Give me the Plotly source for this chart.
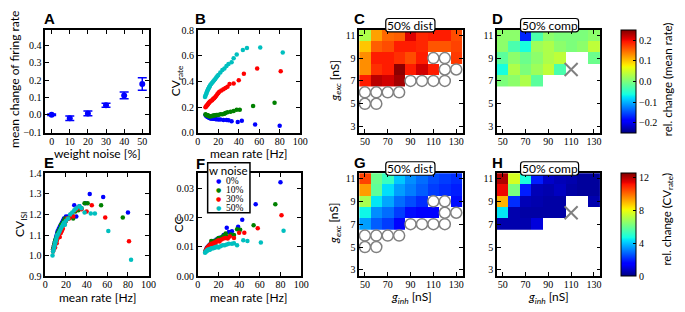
import plotly.graph_objects as go

# ---------------- data ----------------
noise_pct = [0, 10, 20, 30, 40, 50]
rate_change = [0.0, -0.02, 0.008, 0.055, 0.112, 0.178]
rate_change_err = [0.004, 0.013, 0.014, 0.011, 0.02, 0.036]

series_names = ["0%", "10%", "30%", "50%"]
series_colors = ["#0000ff", "#008000", "#ff0000", "#00bfbf"]

rate_0 = [7.5, 8, 8.5, 9, 9.5, 10, 10.5, 11, 11.5, 12, 12.5, 13, 14, 15, 16, 17, 18, 20, 22, 25, 28, 30, 33, 39, 43, 56, 80]
cvrate_0 = [0.14, 0.135, 0.13, 0.13, 0.125, 0.125, 0.12, 0.12, 0.118, 0.115, 0.115, 0.113, 0.112, 0.11, 0.11, 0.108, 0.107, 0.105, 0.105, 0.1, 0.1, 0.098, 0.09, 0.085, 0.095, 0.065, 0.055]
cvisi_0 = [1.03, 1.04, 1.05, 1.06, 1.07, 1.08, 1.09, 1.10, 1.11, 1.12, 1.10, 1.13, 1.14, 1.15, 1.16, 1.17, 1.18, 1.19, 1.19, 1.2, 1.245, 1.19, 1.24, 1.255, 1.3, 1.285, 1.21]
cc_0 = [0.0085, 0.009, 0.0095, 0.0095, 0.01, 0.01, 0.0098, 0.0105, 0.0103, 0.0108, 0.011, 0.0112, 0.0115, 0.012, 0.0112, 0.0118, 0.0125, 0.0128, 0.0132, 0.014, 0.0165, 0.015, 0.0153, 0.0168, 0.0192, 0.0245, 0.032]

rate_10 = [7.5, 8, 8.5, 9, 9.5, 10, 10.5, 11, 11.5, 12, 13, 14, 15, 16, 17, 18, 19, 20, 22, 24, 26, 27, 29, 32, 35, 38, 41, 54, 75]
cvrate_10 = [0.145, 0.14, 0.14, 0.138, 0.135, 0.135, 0.133, 0.13, 0.13, 0.13, 0.13, 0.132, 0.135, 0.135, 0.138, 0.14, 0.14, 0.14, 0.145, 0.145, 0.15, 0.155, 0.16, 0.165, 0.17, 0.18, 0.18, 0.21, 0.235]
cvisi_10 = [1.03, 1.04, 1.05, 1.06, 1.07, 1.08, 1.07, 1.09, 1.1, 1.11, 1.12, 1.13, 1.15, 1.14, 1.16, 1.17, 1.18, 1.17, 1.18, 1.19, 1.2, 1.18, 1.215, 1.22, 1.23, 1.255, 1.255, 1.245, 1.185]
cc_10 = [0.0085, 0.009, 0.009, 0.0095, 0.0095, 0.01, 0.01, 0.0102, 0.0105, 0.0108, 0.012, 0.011, 0.0115, 0.012, 0.0118, 0.0122, 0.0125, 0.013, 0.013, 0.0135, 0.014, 0.0145, 0.0135, 0.0142, 0.014, 0.016, 0.0158, 0.0173, 0.0245]

rate_30 = [7.5, 8, 8.5, 9, 9.5, 10, 10.5, 11, 11.5, 12, 13, 14, 15, 16, 17, 18, 19, 20, 21, 23, 25, 27, 29, 31, 35, 40, 45, 58, 81]
cvrate_30 = [0.2, 0.205, 0.21, 0.215, 0.22, 0.225, 0.23, 0.235, 0.24, 0.245, 0.25, 0.255, 0.265, 0.27, 0.28, 0.29, 0.3, 0.31, 0.32, 0.33, 0.34, 0.35, 0.36, 0.38, 0.385, 0.41, 0.46, 0.5, 0.48]
cvisi_30 = [1.02, 1.03, 1.04, 1.05, 1.04, 1.06, 1.07, 1.06, 1.08, 1.09, 1.1, 1.09, 1.11, 1.12, 1.13, 1.15, 1.16, 1.17, 1.18, 1.18, 1.2, 1.19, 1.22, 1.23, 1.225, 1.215, 1.245, 1.185, 1.07]
cc_30 = [0.0085, 0.009, 0.0092, 0.0095, 0.0098, 0.01, 0.01, 0.0102, 0.0105, 0.0105, 0.011, 0.0108, 0.0112, 0.0115, 0.011, 0.0118, 0.012, 0.0122, 0.0118, 0.0125, 0.0128, 0.013, 0.0128, 0.0135, 0.013, 0.0148, 0.0148, 0.0163, 0.0207]

rate_50 = [7, 7.5, 8, 8.5, 9, 9.5, 10, 10.5, 11, 11.5, 12, 13, 14, 15, 16, 17, 18, 19, 20, 22, 24, 26, 28, 30, 33, 35, 38, 44, 48, 61, 83]
cvrate_50 = [0.28, 0.29, 0.3, 0.31, 0.32, 0.33, 0.34, 0.345, 0.355, 0.36, 0.37, 0.38, 0.39, 0.4, 0.41, 0.42, 0.43, 0.44, 0.45, 0.47, 0.49, 0.5, 0.52, 0.535, 0.55, 0.58, 0.61, 0.645, 0.66, 0.665, 0.625]
cvisi_50 = [1.0, 1.02, 1.03, 1.04, 1.05, 1.06, 1.07, 1.08, 1.09, 1.1, 1.1, 1.11, 1.12, 1.13, 1.14, 1.15, 1.16, 1.15, 1.17, 1.18, 1.2, 1.21, 1.22, 1.23, 1.24, 1.23, 1.21, 1.205, 1.205, 1.12, 0.98]
cc_50 = [0.008, 0.0082, 0.0085, 0.0085, 0.0088, 0.009, 0.0088, 0.009, 0.0092, 0.009, 0.0092, 0.0095, 0.0095, 0.0095, 0.0098, 0.0098, 0.01, 0.01, 0.0098, 0.0102, 0.0105, 0.0105, 0.0108, 0.011, 0.011, 0.0112, 0.0105, 0.0122, 0.012, 0.0115, 0.0155]

rates = [rate_0, rate_10, rate_30, rate_50]
cvrates = [cvrate_0, cvrate_10, cvrate_30, cvrate_50]
cvisis = [cvisi_0, cvisi_10, cvisi_30, cvisi_50]
ccs = [cc_0, cc_10, cc_30, cc_50]

g_inh = [50, 60, 70, 80, 90, 100, 110, 120, 130]
g_exc = [7, 8, 9, 10, 11]
N = None

# C: 50% dist, rel. change of mean rate (rows: g_exc 7..11)
dist_rate = [
    [0.19, 0.225, 0.215, 0.235, N, N, N, N, N],
    [0.13, 0.18, 0.19, 0.245, 0.19, 0.215, 0.19, N, N],
    [0.13, 0.19, 0.19, 0.18, 0.165, 0.19, N, N, 0.175],
    [0.10, 0.155, 0.165, 0.19, 0.19, 0.185, 0.16, 0.16, 0.17],
    [0.03, 0.12, 0.15, 0.155, 0.21, 0.185, 0.19, 0.19, 0.165],
]
# D: 50% comp, rel. change of mean rate
comp_rate = [
    [0.0, 0.01, 0.03, -0.02, N, N, N, N, N],
    [-0.06, 0.03, 0.0, 0.02, 0.04, -0.03, N, N, N],
    [-0.02, 0.01, -0.01, 0.01, 0.03, 0.04, N, N, -0.01],
    [0.01, -0.03, -0.06, 0.02, 0.03, 0.01, 0.0, 0.01, 0.04],
    [0.01, 0.01, -0.17, -0.03, 0.01, 0.0, 0.0, 0.0, 0.01],
]
# G: 50% dist, rel. change of CV_rate
dist_cv = [
    [3.5, 2.7, 2.3, 1.6, N, N, N, N, N],
    [4.6, 3.3, 2.9, 2.3, 1.7, 1.4, 1.4, N, N],
    [6.9, 4.4, 3.6, 2.9, 2.5, 2.1, N, N, 1.7],
    [9.3, 5.8, 4.3, 3.5, 3.1, 2.7, 2.3, 2.1, 1.9],
    [10.5, 6.0, 5.2, 4.0, 3.3, 2.9, 2.5, 2.3, 2.1],
]
# H: 50% comp, rel. change of CV_rate
comp_cv = [
    [0.5, 0.5, 0.5, 1.0, N, N, N, N, N],
    [4.4, 0.5, 0.4, 0.4, 0.4, 0.4, N, N, N],
    [9.0, 2.1, 0.6, 0.5, 0.4, 0.4, N, N, 0.5],
    [11.3, 6.2, 1.9, 0.6, 0.5, 0.7, 0.4, 0.3, 0.3],
    [12.0, 7.6, 4.8, 1.9, 0.8, 0.6, 0.5, 0.3, 0.3],
]
# silent / excluded parameter combinations (circles) and marked point (cross)
circle_inh = [110, 120, 120, 130, 90, 100, 110, 120, 50, 60, 70, 80, 50, 60]
circle_exc = [9, 9, 8, 8, 7, 7, 7, 7, 6, 6, 6, 6, 5, 5]
cross_inh = [110]
cross_exc = [8]

# ---------------- styling helpers ----------------
W, H = 685, 312
def px_x(a):
    return a / W
def px_y(a):
    return 1 - a / H

def mpl_jet():
    r = [(0, 0), (0.35, 0), (0.66, 1), (0.89, 1), (1, 0.5)]
    g = [(0, 0), (0.125, 0), (0.375, 1), (0.64, 1), (0.91, 0), (1, 0)]
    b = [(0, 0.5), (0.11, 1), (0.34, 1), (0.65, 0), (1, 0)]
    def itp(pts, t):
        for (t0, v0), (t1, v1) in zip(pts[:-1], pts[1:]):
            if t0 <= t <= t1:
                return v0 + (v1 - v0) * (t - t0) / (t1 - t0) if t1 > t0 else v1
        return pts[-1][1]
    stops = sorted(set([p for p, _ in r + g + b]))
    return [[t, "rgb(%d,%d,%d)" % (round(255 * itp(r, t)), round(255 * itp(g, t)), round(255 * itp(b, t)))] for t in stops]

JET = mpl_jet()
TICKFONT = dict(family="Liberation Serif", size=10, color="black")
TFONT = dict(family="Lato", size=12, color="black")

def axis(dom, rng, tickvals, anchor, fmt=None, labels=True, standoff=0):
    d = dict(domain=dom, range=rng, tickvals=tickvals, anchor=anchor,
             showline=True, linecolor="black", linewidth=1.5, mirror="ticks",
             ticks="inside", ticklen=4, tickwidth=1, tickcolor="black",
             showgrid=False, zeroline=False, tickfont=TICKFONT,
             showticklabels=labels, ticklabelstandoff=standoff)
    if fmt:
        d["tickformat"] = fmt
    return d

fig = go.Figure()

# A
fig.add_trace(go.Scatter(x=noise_pct, y=rate_change, mode="markers",
                         marker=dict(color="#0000ff", size=6),
                         error_y=dict(type="data", array=rate_change_err, color="#0000ff", thickness=1.5, width=4.5),
                         xaxis="x", yaxis="y", showlegend=False))
# B, E, F
for i in range(4):
    fig.add_trace(go.Scatter(x=rates[i], y=cvrates[i], mode="markers", marker=dict(color=series_colors[i], size=4.5),
                             xaxis="x2", yaxis="y2", showlegend=False))
    fig.add_trace(go.Scatter(x=rates[i], y=cvisis[i], mode="markers", marker=dict(color=series_colors[i], size=4.5),
                             xaxis="x5", yaxis="y5", showlegend=False))
    fig.add_trace(go.Scatter(x=rates[i], y=ccs[i], mode="markers", marker=dict(color=series_colors[i], size=4.5),
                             xaxis="x6", yaxis="y6", showlegend=False))

# heatmaps
for z, xa, ya, ca in [(dist_rate, "x3", "y3", "coloraxis"), (comp_rate, "x4", "y4", "coloraxis"),
                      (dist_cv, "x7", "y7", "coloraxis2"), (comp_cv, "x8", "y8", "coloraxis2")]:
    fig.add_trace(go.Heatmap(x=g_inh, y=g_exc, z=z, coloraxis=ca, xaxis=xa, yaxis=ya, hoverongaps=False))

for xa, ya in [("x3", "y3"), ("x7", "y7")]:
    fig.add_trace(go.Scatter(x=circle_inh, y=circle_exc, mode="markers", cliponaxis=False,
                             marker=dict(symbol="circle", size=11, color="white", line=dict(color="#808080", width=1.5)),
                             xaxis=xa, yaxis=ya, showlegend=False))
for xa, ya in [("x4", "y4"), ("x8", "y8")]:
    fig.add_trace(go.Scatter(x=cross_inh, y=cross_exc, mode="markers",
                             marker=dict(symbol="x-thin-open", size=13, color="#808080", line=dict(color="#808080", width=2)),
                             xaxis=xa, yaxis=ya, showlegend=False))

row1 = [px_y(132), px_y(25)]
row2 = [px_y(281), px_y(174)]
hm_x = [45, 135.5]
hm_y = [2.45, 11.45]
SO = -2

layout = dict(
    width=W, height=H, margin=dict(l=0, r=0, t=0, b=0),
    paper_bgcolor="white", plot_bgcolor="white", showlegend=False,
    xaxis=axis([px_x(43), px_x(148)], [-3.5, 53.5], noise_pct, "y", standoff=SO),
    yaxis=axis(row1, [-0.105, 0.49], [-0.1, 0.0, 0.1, 0.2, 0.3, 0.4], "x", ".1f"),
    xaxis2=axis([px_x(198), px_x(302)], [0, 100], [0, 20, 40, 60, 80, 100], "y2", standoff=SO),
    yaxis2=axis(row1, [0, 0.8], [0, 0.2, 0.4, 0.6, 0.8], "x2", ".1f"),
    xaxis3=axis([px_x(362), px_x(467)], hm_x, [50, 70, 90, 110, 130], "y3", standoff=SO),
    yaxis3=axis(row1, hm_y, [3, 5, 7, 9, 11], "x3"),
    xaxis4=axis([px_x(502), px_x(607)], hm_x, [50, 70, 90, 110, 130], "y4", standoff=SO),
    yaxis4=axis(row1, hm_y, [3, 5, 7, 9, 11], "x4"),
    xaxis5=axis([px_x(43), px_x(148)], [0, 100], [0, 20, 40, 60, 80, 100], "y5", standoff=SO),
    yaxis5=axis(row2, [0.9, 1.4], [0.9, 1.0, 1.1, 1.2, 1.3, 1.4], "x5", ".1f"),
    xaxis6=axis([px_x(198), px_x(303)], [0, 100], [0, 20, 40, 60, 80, 100], "y6", standoff=SO),
    yaxis6=axis(row2, [0, 0.035], [0, 0.01, 0.02, 0.03], "x6", ".2f"),
    xaxis7=axis([px_x(362), px_x(467)], hm_x, [50, 70, 90, 110, 130], "y7", standoff=SO),
    yaxis7=axis(row2, hm_y, [3, 5, 7, 9, 11], "x7"),
    xaxis8=axis([px_x(502), px_x(607)], hm_x, [50, 70, 90, 110, 130], "y8", standoff=SO),
    yaxis8=axis(row2, hm_y, [3, 5, 7, 9, 11], "x8"),
)

def cbar(top, bot, tickvals, fmt):
    return dict(x=px_x(628), xanchor="left", xpad=0, ypad=0,
                y=px_y((top + bot) / 2), yanchor="middle", len=(bot - top) / H, lenmode="fraction",
                thickness=15, thicknessmode="pixels", outlinewidth=1, outlinecolor="black",
                tickvals=tickvals, tickformat=fmt, ticks="inside", ticklen=3, tickcolor="black",
                tickfont=TICKFONT)

layout["coloraxis"] = dict(colorscale=JET, cmin=-0.25, cmax=0.25,
                           colorbar=cbar(25, 132, [-0.2, -0.1, 0.0, 0.1, 0.2], ".1f"))
layout["coloraxis2"] = dict(colorscale=JET, cmin=0, cmax=12.5,
                            colorbar=cbar(174, 281, [0, 4, 8, 12], "d"))

ann = []
def text(x, y, t, angle=0, font=TFONT, xanchor="center"):
    ann.append(dict(x=px_x(x), y=px_y(y), xref="paper", yref="paper", text=t, showarrow=False,
                    textangle=angle, font=font, xanchor=xanchor, yanchor="middle"))

# axis titles
text(11, 76, "mean change of firing rate", -90)
text(96, 153.5, "weight noise [%]")
text(176, 78, "CV<sub>rate</sub>", -90)
text(250, 153.5, "mean rate [Hz]")
text(18, 227, "CV<sub>ISI</sub>", -90)
text(96, 303, "mean rate [Hz]")
text(178, 227, "CC", -90)
text(250, 303, "mean rate [Hz]")
text(337, 78, "<i>g</i><sub><i>exc</i></sub> [nS]", -90)
text(337, 226, "<i>g</i><sub><i>exc</i></sub> [nS]", -90)
text(415, 303, "<i>g</i><sub><i>inh</i></sub> [nS]")
text(554, 303, "<i>g</i><sub><i>inh</i></sub> [nS]")
CBF = dict(family="Lato", size=11.5, color="black")
text(675, 76, "rel. change (mean rate)", -90, font=CBF)
text(675, 222, "rel. change (CV<sub>rate</sub>)", -90, font=CBF)

# panel letters
LF = dict(family="Liberation Sans", size=15, color="black")
for lx, ly, L in [(40, 13, "A"), (193, 13, "B"), (355, 13, "C"), (495, 13, "D"),
                  (40, 163, "E"), (194, 164, "F"), (355, 163, "G"), (495, 163, "H")]:
    text(lx, ly, "<b>%s</b>" % L, font=LF, xanchor="left")

# rounded label boxes
shapes = []
def rbox(x0, x1, y0, y1, r=3):
    X0, X1 = px_x(x0), px_x(x1)
    Y0, Y1 = px_y(y1), px_y(y0)  # bottom, top in paper
    rx, ry = r / W, r / H
    p = ("M %f,%f L %f,%f Q %f,%f %f,%f L %f,%f Q %f,%f %f,%f L %f,%f Q %f,%f %f,%f L %f,%f Q %f,%f %f,%f Z" % (
        X0 + rx, Y1, X1 - rx, Y1, X1, Y1, X1, Y1 - ry, X1, Y0 + ry, X1, Y0, X1 - rx, Y0,
        X0 + rx, Y0, X0, Y0, X0, Y0 + ry, X0, Y1 - ry, X0, Y1, X0 + rx, Y1))
    shapes.append(dict(type="path", path=p, xref="paper", yref="paper", fillcolor="white",
                       line=dict(color="black", width=1.2), layer="above"))

BF = dict(family="Lato", size=12, color="black")
for x0, x1, y0, y1, t in [(389, 439, 13, 27, "50% dist"), (526, 585, 13, 27, "50% comp"),
                          (389, 439, 162, 176, "50% dist"), (526, 585, 162, 176, "50% comp")]:
    rbox(x0, x1, y0, y1)
    text((x0 + x1) / 2, (y0 + y1) / 2, t, font=BF)

# legend of F
shapes.append(dict(type="rect", xref="paper", yref="paper", x0=px_x(208), x1=px_x(251), y0=px_y(215), y1=px_y(163),
                   fillcolor="white", line=dict(color="black", width=1.5), layer="above"))
text(229.5, 171.5, "w noise", font=dict(family="Lato", size=11.5, color="black"))
for k, (nm, col) in enumerate(zip(series_names, series_colors)):
    yy = 181.5 + k * 9.5
    text(219, yy, "●", font=dict(family="DejaVu Sans", size=6, color=col))
    text(225, yy, nm, font=dict(family="Liberation Serif", size=9.5, color="black"), xanchor="left")

layout["annotations"] = ann
layout["shapes"] = shapes
fig.update_layout(**layout)
fig.write_html("out.html", config={"displayModeBar": False},
               post_script="document.body.style.margin='0px';document.body.style.overflow='hidden';")
